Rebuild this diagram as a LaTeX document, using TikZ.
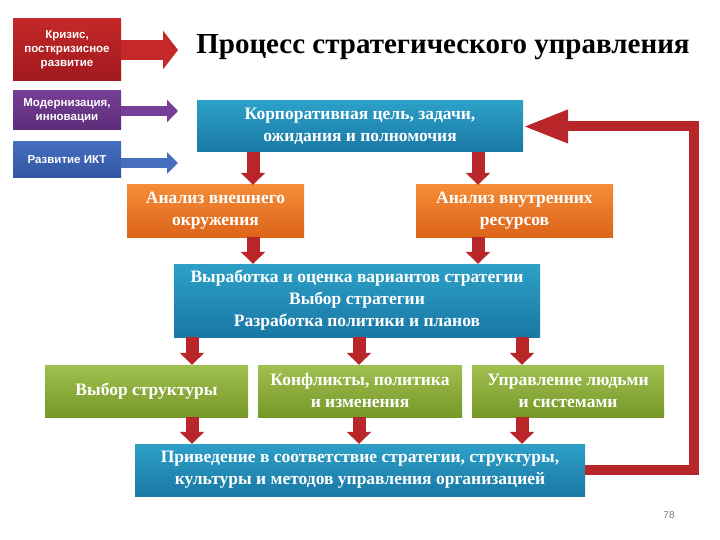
\documentclass[tikz,border=0pt]{standalone}
\usepackage{fontspec}
\setmainfont{Liberation Serif}
\setsansfont{Liberation Sans}
\usetikzlibrary{arrows.meta,positioning}
\definecolor{redbox}{RGB}{196,40,40}
\definecolor{redboxd}{RGB}{160,25,30}
\definecolor{purplebox}{RGB}{118,62,150}
\definecolor{purpleboxd}{RGB}{92,45,120}
\definecolor{bluebox}{RGB}{70,110,190}
\definecolor{blueboxd}{RGB}{50,85,160}
\definecolor{tealtop}{RGB}{45,160,200}
\definecolor{tealbot}{RGB}{25,120,165}
\definecolor{orangetop}{RGB}{245,140,55}
\definecolor{orangebot}{RGB}{220,100,25}
\definecolor{greentop}{RGB}{160,192,80}
\definecolor{greenbot}{RGB}{118,152,40}
\definecolor{arrowred}{RGB}{185,38,42}

\begin{document}
\begin{tikzpicture}[x=1pt, y=-1pt,
  sidebox/.style={rectangle, minimum width=108pt, inner sep=1pt, align=center, text=white,
    font=\sffamily\bfseries\fontsize{11.5}{14}\selectfont},
  stepbox/.style={rectangle, inner sep=1pt, align=center, text=white,
    font=\bfseries\fontsize{17.5}{22}\selectfont},
  tealbox/.style={stepbox, top color=tealtop, bottom color=tealbot},
  orangebox/.style={stepbox, top color=orangetop, bottom color=orangebot},
  greenbox/.style={stepbox, top color=greentop, bottom color=greenbot},
  downarrow/.style={arrowred, line width=13pt, -{Triangle[width=24pt, length=12pt]}},
  backarrow/.style={arrowred, line width=10pt, -{Triangle[width=31pt, length=45pt]}}]
\useasboundingbox (0,0) rectangle (720,540);

% left inputs
\node[sidebox, minimum height=62pt, top color=redbox, bottom color=redboxd] (krizis) at (67,50) {Кризис,\\посткризисное\\развитие};
\node[sidebox, minimum height=39pt, top color=purplebox, bottom color=purpleboxd] (modern) at (67,110.5) {Модернизация,\\инновации};
\node[sidebox, minimum height=36pt, top color=bluebox, bottom color=blueboxd] (ikt) at (67,160) {Развитие ИКТ};
\coordinate (k1) at (178,50);
\coordinate (k2) at (178,111);
\coordinate (k3) at (178,163);
\draw[redbox, line width=20pt, -{Triangle[width=38pt, length=15pt]}] (krizis.east |- k1) -- (k1);
\draw[purplebox, line width=10pt, -{Triangle[width=22pt, length=11pt]}] (modern.east |- k2) -- (k2);
\draw[bluebox, line width=10pt, -{Triangle[width=21pt, length=11pt]}] (ikt.east |- k3) -- (k3);

% title
\node[font=\bfseries\fontsize{29}{34}\selectfont] (title) at (443,47) {Процесс стратегического управления};

% main chain
\node[tealbox, minimum width=326pt, minimum height=51pt] (goal) at (360,126.5) {Корпоративная цель, задачи,\\ожидания и полномочия};
\node[orangebox, minimum width=177pt, minimum height=52pt] (ext) at (215.5,211) {Анализ внешнего\\окружения};
\node[orangebox, minimum width=197pt, minimum height=52pt] (int) at (514.5,211) {Анализ внутренних\\ресурсов};
\node[tealbox, minimum width=366pt, minimum height=73pt] (strat) at (357,300.5) {Выработка и оценка вариантов стратегии\\Выбор стратегии\\Разработка политики и планов};
\node[greenbox, minimum width=203pt, minimum height=52pt] (struct) at (146.5,391) {Выбор структуры};
\node[greenbox, minimum width=204pt, minimum height=52pt] (confl) at (360,391) {Конфликты, политика\\и изменения};
\node[greenbox, minimum width=192pt, minimum height=52pt] (people) at (568,391) {Управление людьми\\и системами};
\node[tealbox, minimum width=450pt, minimum height=52pt] (align) at (360,470) {Приведение в соответствие стратегии, структуры,\\культуры и методов управления организацией};

% arrow columns
\coordinate (c1) at (253,0);
\coordinate (c2) at (478,0);
\coordinate (c3) at (192,0);
\coordinate (c4) at (359,0);
\coordinate (c5) at (522,0);
\draw[downarrow] (goal.south -| c1) -- (ext.north -| c1);
\draw[downarrow] (goal.south -| c2) -- (int.north -| c2);
\draw[downarrow] (ext.south -| c1) -- (strat.north -| c1);
\draw[downarrow] (int.south -| c2) -- (strat.north -| c2);
\draw[downarrow] (strat.south -| c3) -- (struct.north -| c3);
\draw[downarrow] (strat.south -| c4) -- (confl.north -| c4);
\draw[downarrow] (strat.south -| c5) -- (people.north -| c5);
\draw[downarrow] (struct.south -| c3) -- (align.north -| c3);
\draw[downarrow] (confl.south -| c4) -- (align.north -| c4);
\draw[downarrow] (people.south -| c5) -- (align.north -| c5);

% feedback
\coordinate (fb) at (694,300);
\draw[backarrow] (align.east) -| (fb) |- (goal.east);

\node[text=gray, font=\sffamily\fontsize{10}{12}\selectfont] (page) at (669,515) {78};
\end{tikzpicture}
\end{document}
